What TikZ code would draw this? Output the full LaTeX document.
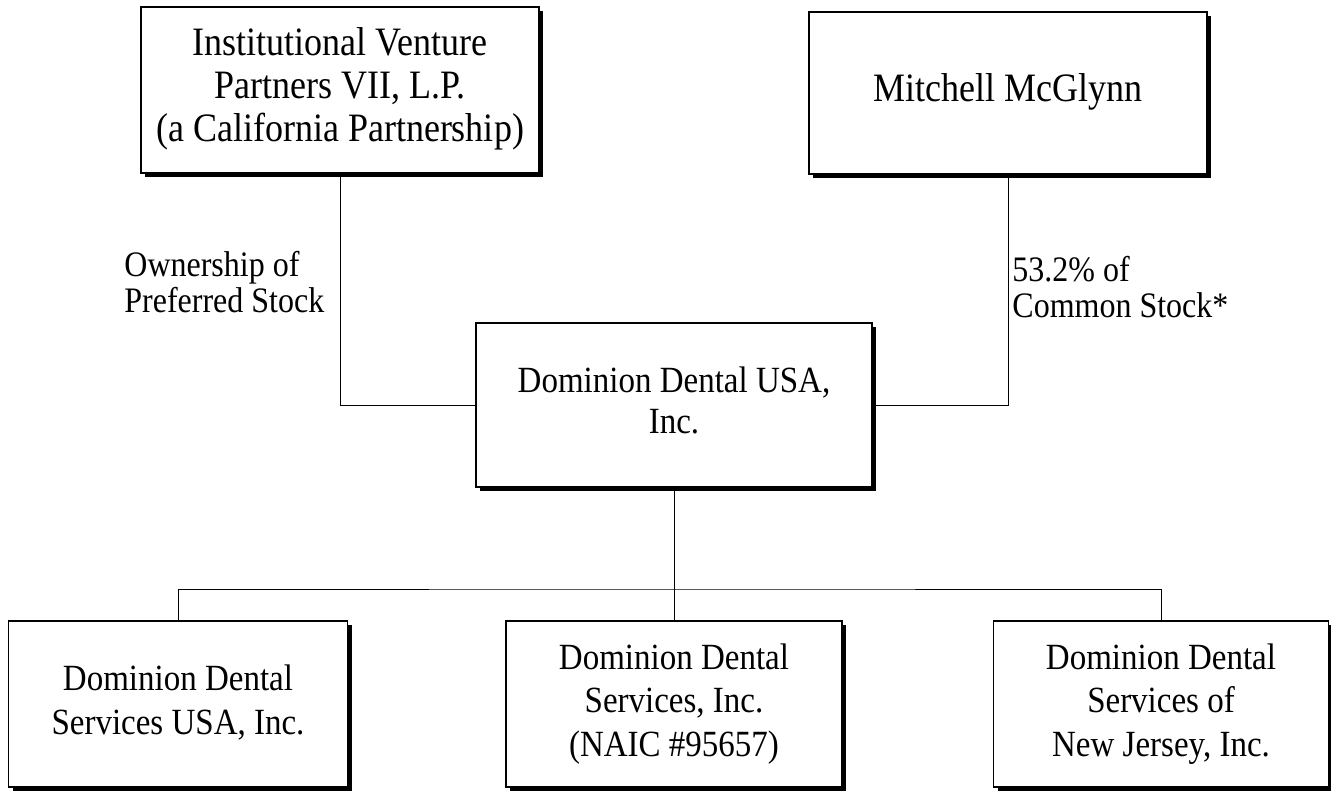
\documentclass[tikz,border=0pt]{standalone}
\usepackage{fontspec}
\usepackage{graphicx}
\setmainfont{Liberation Serif}
\usetikzlibrary{shadows}

% text of the scan is a bit taller than wide
\newcommand{\boxtext}[1]{\scalebox{1}[1.12]{\begin{tabular}{@{}c@{}}#1\end{tabular}}}
\newcommand{\sharetext}[1]{\scalebox{1}[1.12]{\begin{tabular}{@{}l@{}}#1\end{tabular}}}

\begin{document}
\begin{tikzpicture} [x=0.5pt,y=-0.5pt,node distance=149.5pt]
  \tikzstyle{entity}=[draw,fill=white,line width=0.75pt,font=\fontsize{16.5}{19.4}\selectfont,general shadow={fill=black,shadow xshift=2pt,shadow yshift=-2pt}]
  \tikzstyle{top}=[entity,font=\fontsize{18}{19.2}\selectfont]
  \tikzstyle{share}=[inner sep=0pt,font=\fontsize{16}{16.3}\selectfont]
  \tikzstyle{link}=[line width=0.5pt]

  \useasboundingbox (0,0) rectangle (1331,792);

  \node[top,minimum width=199pt,minimum height=83pt] (ivp) at (340,90) {\boxtext{Institutional Venture\\Partners VII, L.P.\\(a California Partnership)}};
  \node[top,minimum width=199pt,minimum height=81pt] (mcg) at (1008,93) {\boxtext{Mitchell McGlynn}};
  \node[entity,minimum width=198pt,minimum height=82pt,font=\fontsize{16.5}{18.3}\selectfont] (ddusa) at (674,405) {\raisebox{8.5pt}{\boxtext{Dominion Dental USA,\\Inc.}}};
  \node[entity,minimum width=168pt,minimum height=83pt] (ddsvc) [below of=ddusa] {\boxtext{Dominion Dental\\Services, Inc.\\(NAIC \#95657)}};
  \node[entity,minimum width=169.5pt,minimum height=83pt] (ddsusa) [left of=ddsvc, node distance=248pt] {\boxtext{Dominion Dental\\Services USA, Inc.}};
  \node[entity,minimum width=167.5pt,minimum height=83pt] (ddnj) [right of=ddsvc, node distance=243.5pt] {\boxtext{Dominion Dental\\Services of\\New Jersey, Inc.}};
  \coordinate (bus) at (674,589);

  \node[share,anchor=west] (pref) at (124,287) {\sharetext{Ownership of\\Preferred Stock}};
  \node[share,anchor=west] (comm) at (1012,292) {\sharetext{53.2\% of\\Common Stock*}};

  \draw[link] (ivp) |- (ddusa);
  \draw[link] (mcg) |- (ddusa);
  \draw[link] (ddusa) -- (ddsvc);
  \draw[link] (ddsusa) |- (bus) -| (ddnj);
\end{tikzpicture}
\end{document}
